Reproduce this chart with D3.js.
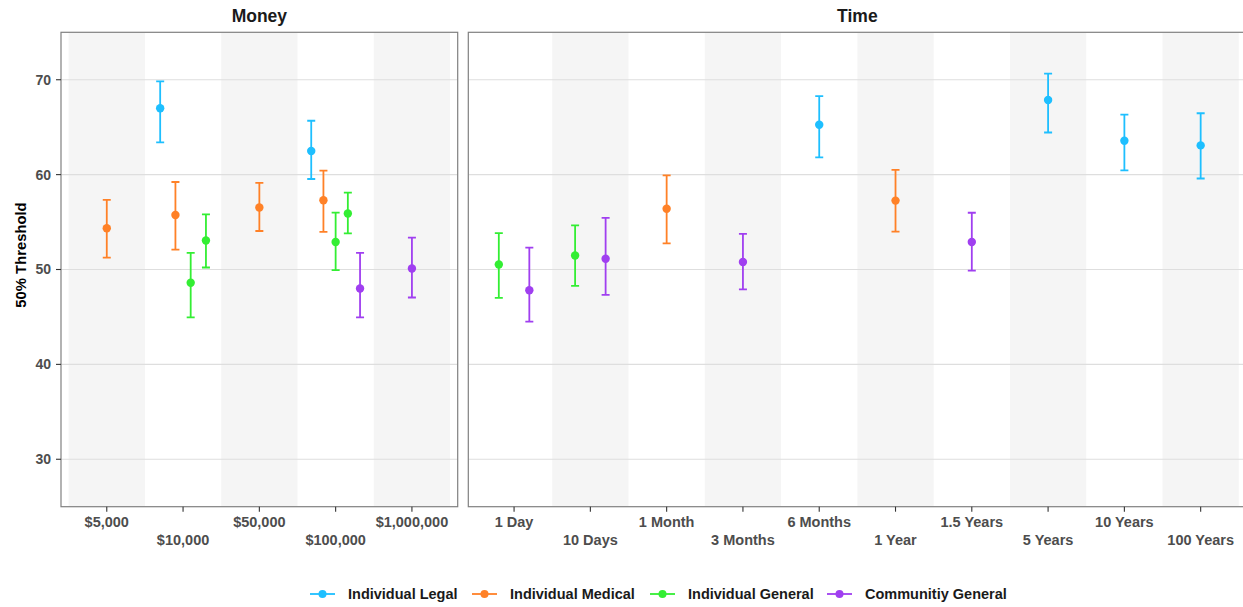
<!DOCTYPE html>
<html>
<head>
<meta charset="utf-8">
<script src="https://cdn.jsdelivr.net/npm/d3@7/dist/d3.min.js"></script>
<style>
  html, body { margin: 0; padding: 0; background: #fff; }
  svg { display: block; font-family: "Liberation Sans", Arial, Helvetica, sans-serif; }
</style>
</head>
<body>
<svg id="chart" width="1243" height="607"></svg>
<script>
// ---------------- data ----------------
const seriesNames = ["Individual Legal", "Individual Medical", "Individual General", "Communitiy General"];
const seriesColors = ["#1ebfff", "#ff8127", "#33ee33", "#a03ff0"];

const moneyCats = ["$5,000", "$10,000", "$50,000", "$100,000", "$1,000,000"];
const timeCats = ["1 Day", "10 Days", "1 Month", "3 Months", "6 Months", "1 Year", "1.5 Years", "5 Years", "10 Years", "100 Years"];
const yTicks = [30, 40, 50, 60, 70];

// [category, series index, estimate, lower, upper]
const moneyPoints = [
  ["$5,000", 1, 54.35, 51.26, 57.33],
  ["$10,000", 0, 67.0, 63.4, 69.82],
  ["$10,000", 1, 55.75, 52.1, 59.22],
  ["$10,000", 2, 48.6, 44.95, 51.75],
  ["$10,000", 2, 53.05, 50.21, 55.82],
  ["$50,000", 1, 56.53, 54.06, 59.12],
  ["$100,000", 0, 62.49, 59.54, 65.68],
  ["$100,000", 1, 57.3, 53.96, 60.42],
  ["$100,000", 2, 52.9, 49.93, 56.0],
  ["$100,000", 2, 55.9, 53.8, 58.1],
  ["$100,000", 3, 48.0, 44.95, 51.75],
  ["$1,000,000", 3, 50.1, 47.05, 53.37]
];
const timePoints = [
  ["1 Day", 2, 50.53, 47.0, 53.83],
  ["1 Day", 3, 47.82, 44.5, 52.3],
  ["10 Days", 2, 51.47, 48.27, 54.66],
  ["10 Days", 3, 51.13, 47.33, 55.45],
  ["1 Month", 1, 56.4, 52.75, 59.93],
  ["3 Months", 3, 50.8, 47.9, 53.76],
  ["6 Months", 0, 65.26, 61.81, 68.27],
  ["1 Year", 1, 57.26, 53.99, 60.49],
  ["1.5 Years", 3, 52.9, 49.89, 55.98],
  ["5 Years", 0, 67.86, 64.44, 70.64],
  ["10 Years", 0, 63.57, 60.45, 66.32],
  ["100 Years", 0, 63.08, 59.59, 66.47]
];

// ---------------- layout ----------------
const svg = d3.select("#chart");
const pTop = 32.3, pBottom = 506.7;
const y = d3.scaleLinear().domain([25, 75]).range([pBottom, pTop]);

const leftL = 61, leftR = 457.7;
const step = (leftR - leftL) / (moneyCats.length - 1 + 1.2);
const rightL = 468.3, rightR = rightL + step * (timeCats.length - 1 + 1.2);

const panels = [
  { title: "Money", cats: moneyCats, pts: moneyPoints, x0: leftL, x1: leftR, offset: 0, showY: true },
  { title: "Time", cats: timeCats, pts: timePoints, x0: rightL, x1: rightR, offset: moneyCats.length, showY: false }
];

const gridColor = "#dedede";
const stripeColor = "#f5f5f5";
const borderColor = "#808080";
const tickTextColor = "#4d4d4d";

panels.forEach(p => {
  const x = d3.scalePoint().domain(p.cats).range([p.x0, p.x1]).padding(0.6);
  const st = x.step();
  const g = svg.append("g");

  const clipId = "clip-" + p.title;
  svg.append("clipPath").attr("id", clipId).append("rect")
    .attr("x", p.x0).attr("y", pTop).attr("width", p.x1 - p.x0).attr("height", pBottom - pTop);
  const inner = g.append("g").attr("clip-path", `url(#${clipId})`);

  p.cats.forEach((c, i) => {
    if ((i + p.offset) % 2 === 0) {
      inner.append("rect")
        .attr("x", x(c) - st / 2).attr("y", pTop)
        .attr("width", st).attr("height", pBottom - pTop)
        .attr("fill", stripeColor);
    }
  });

  inner.selectAll("line.grid").data(yTicks).enter().append("line")
    .attr("x1", p.x0).attr("x2", p.x1)
    .attr("y1", d => y(d)).attr("y2", d => y(d))
    .attr("stroke", gridColor).attr("stroke-width", 1.1);

  const groups = d3.group(p.pts, d => d[0]);
  groups.forEach((arr, cat) => {
    const dodge = d3.scaleBand().domain(d3.range(arr.length))
      .range([x(cat) - 0.4 * st, x(cat) + 0.4 * st]);
    arr.forEach((d, k) => {
      const cx = dodge(k) + dodge.bandwidth() / 2;
      const col = seriesColors[d[1]];
      const eg = inner.append("g");
      eg.append("line").attr("x1", cx).attr("x2", cx)
        .attr("y1", y(d[3])).attr("y2", y(d[4]))
        .attr("stroke", col).attr("stroke-width", 1.8);
      [d[3], d[4]].forEach(v => {
        eg.append("line").attr("x1", cx - 4).attr("x2", cx + 4)
          .attr("y1", y(v)).attr("y2", y(v))
          .attr("stroke", col).attr("stroke-width", 1.8);
      });
      eg.append("circle").attr("cx", cx).attr("cy", y(d[2])).attr("r", 4.2).attr("fill", col);
    });
  });

  g.append("rect").attr("x", p.x0).attr("y", pTop)
    .attr("width", p.x1 - p.x0).attr("height", pBottom - pTop)
    .attr("fill", "none").attr("stroke", borderColor).attr("stroke-width", 1.2);

  p.cats.forEach((c, i) => {
    g.append("line").attr("x1", x(c)).attr("x2", x(c))
      .attr("y1", pBottom).attr("y2", pBottom + 5)
      .attr("stroke", "#333").attr("stroke-width", 1.1);
    g.append("text").attr("x", x(c)).attr("y", i % 2 === 0 ? 527 : 545)
      .attr("text-anchor", "middle").attr("font-size", 14.5).attr("font-weight", "bold")
      .attr("fill", tickTextColor).text(c);
  });

  g.append("text").attr("x", (p.x0 + p.x1) / 2).attr("y", 22)
    .attr("text-anchor", "middle").attr("font-size", 17.5).attr("font-weight", "bold")
    .attr("fill", "#1a1a1a").text(p.title);

  if (p.showY) {
    yTicks.forEach(t => {
      g.append("line").attr("x1", p.x0 - 5).attr("x2", p.x0)
        .attr("y1", y(t)).attr("y2", y(t)).attr("stroke", "#333").attr("stroke-width", 1.1);
      g.append("text").attr("x", p.x0 - 10).attr("y", y(t)).attr("dy", "0.35em")
        .attr("text-anchor", "end").attr("font-size", 14).attr("font-weight", "bold")
        .attr("fill", tickTextColor).text(t);
    });
  }
});

svg.append("text")
  .attr("transform", `translate(25.5,255) rotate(-90)`)
  .attr("text-anchor", "middle").attr("font-size", 14.8).attr("font-weight", "bold")
  .attr("fill", "#000").text("50% Threshold");

const legendStarts = [310, 472, 650, 827];
const legY = 594;
const leg = svg.append("g");
seriesNames.forEach((n, i) => {
  const lx = legendStarts[i];
  leg.append("line").attr("x1", lx).attr("x2", lx + 25).attr("y1", legY).attr("y2", legY)
    .attr("stroke", seriesColors[i]).attr("stroke-width", 1.8);
  leg.append("circle").attr("cx", lx + 12.5).attr("cy", legY).attr("r", 4).attr("fill", seriesColors[i]);
  leg.append("text").attr("x", lx + 38).attr("y", legY).attr("dy", "0.35em")
    .attr("font-size", 14.5).attr("font-weight", "bold").attr("fill", "#1a1a1a").text(n);
});
</script>
</body>
</html>
